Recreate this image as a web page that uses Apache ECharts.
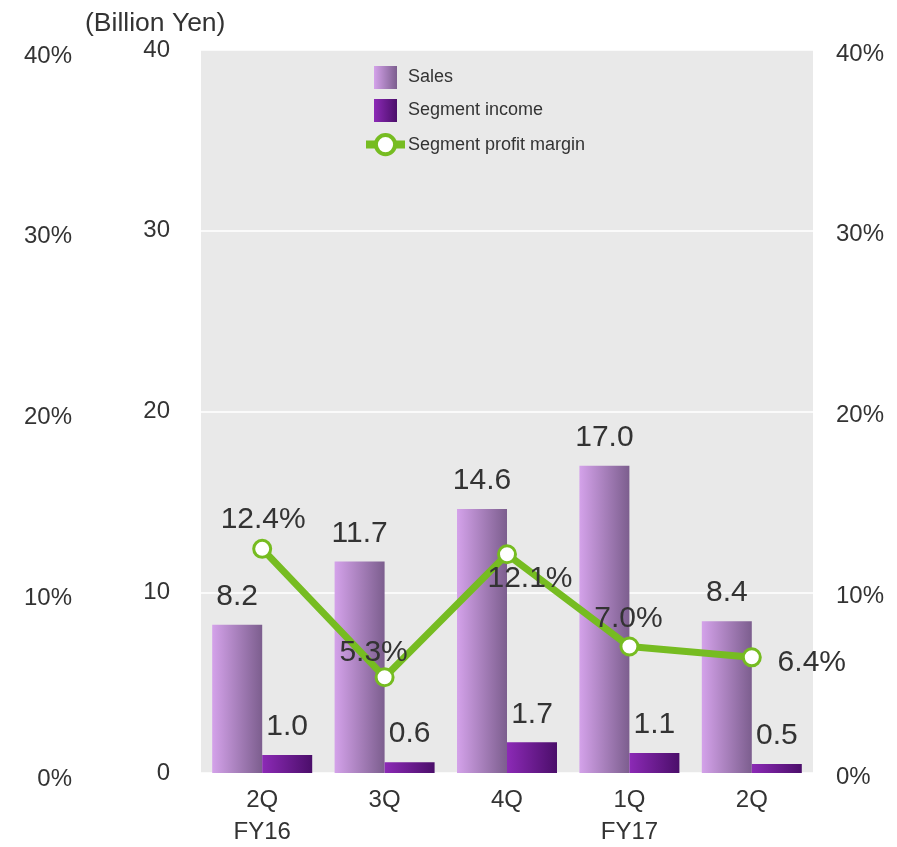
<!DOCTYPE html>
<html><head><meta charset="utf-8">
<script src="https://cdn.jsdelivr.net/npm/echarts@6/dist/echarts.min.js"></script>
<style>html,body{margin:0;padding:0;background:#fff;}#c{width:897px;height:847px;}</style>
</head><body><div id="c"></div>
<script>
const categories = ['2Q\nFY16', '3Q', '4Q', '1Q\nFY17', '2Q'];
const sales = [8.2, 11.7, 14.6, 17.0, 8.4];
const segmentIncome = [1.0, 0.6, 1.7, 1.1, 0.5];
const profitMargin = [12.4, 5.3, 12.1, 7.0, 6.4];
const marginLabelOffsets = [[1, -29], [-11, -24], [23, 24], [-1, -28], [60, 5]];
const leftTicks = [0, 10, 20, 30, 40];

const FONT = '"Liberation Sans", Arial, sans-serif';
const TXT = '#333333';

const chart = echarts.init(document.getElementById('c'));
chart.setOption({
  animation: false,
  backgroundColor: '#ffffff',
  textStyle: { fontFamily: FONT },
  grid: { left: 201, right: 84, top: 50, bottom: 74, show: true, backgroundColor: '#e9e9e9', borderWidth: 0,
    containLabel: false, outerBoundsMode: 'none' },
  graphic: [{ type: 'text', left: 85, top: 10, style: { text: '(Billion Yen)', font: '26.5px ' + FONT, fill: TXT } }],
  legend: [{
    orient: 'vertical', left: 369, top: 61, itemWidth: 23, itemHeight: 23, itemGap: 10,
    textStyle: { fontSize: 18, color: TXT, fontFamily: FONT, padding: [0, 0, 0, 6] },
    data: [{ name: 'Sales', icon: 'rect' }, { name: 'Segment income', icon: 'rect' }]
  }, {
    orient: 'vertical', left: 357, top: 128, itemWidth: 39, itemHeight: 24, itemGap: 10,
    lineStyle: { width: 8 },
    itemStyle: { borderWidth: 4 },
    textStyle: { fontSize: 18, color: TXT, fontFamily: FONT, padding: [0, 0, 0, -2] },
    data: ['Segment profit margin']
  }],
  xAxis: {
    type: 'category', data: categories,
    axisLine: { show: false }, axisTick: { show: false },
    axisLabel: { fontSize: 24, color: TXT, lineHeight: 32, margin: 11, fontFamily: FONT }
  },
  yAxis: [{
    type: 'value', min: 0, max: 40, interval: 10, position: 'left',
    axisLine: { show: false }, axisTick: { show: false },
    splitLine: { lineStyle: { color: '#ffffff', width: 1.5 } },
    axisLabel: { fontSize: 24, color: TXT, margin: 31, fontFamily: FONT,
      formatter: v => leftTicks.includes(v) ? String(v) : '' }
  }, {
    type: 'value', min: 0, max: 40, interval: 10, position: 'right',
    axisLine: { show: false }, axisTick: { show: false }, splitLine: { show: false },
    axisLabel: { color: TXT, margin: 23, formatter: v => '{p|' + v + '%}',
      rich: { p: { fontSize: 24, color: TXT, fontFamily: FONT, padding: [8, 0, 0, 0] } } }
  }, {
    type: 'value', min: 0, max: 40, interval: 10, position: 'left', offset: 100,
    axisLine: { show: false }, axisTick: { show: false }, splitLine: { show: false },
    axisLabel: { color: TXT, margin: 29, formatter: v => '{p|' + v + '%}',
      rich: { p: { fontSize: 24, color: TXT, fontFamily: FONT, padding: [12, 0, 0, 0] } } }
  }],
  series: [{
    name: 'Sales', type: 'bar', data: sales, barWidth: 50, barGap: '0%',
    itemStyle: { color: new echarts.graphic.LinearGradient(0, 0, 1, 0, [
      { offset: 0, color: '#d4a2ea' }, { offset: 1, color: '#7c5e8e' }]) },
    label: { show: true, position: 'top', distance: 13, fontSize: 30, color: TXT, fontFamily: FONT, formatter: p => p.value.toFixed(1) }
  }, {
    name: 'Segment income', type: 'bar', data: segmentIncome, barWidth: 50,
    itemStyle: { color: new echarts.graphic.LinearGradient(0, 0, 1, 0, [
      { offset: 0, color: '#8c2ab6' }, { offset: 1, color: '#4b0e6a' }]) },
    label: { show: true, position: 'top', distance: 13, fontSize: 30, color: TXT, fontFamily: FONT, formatter: p => p.value.toFixed(1) }
  }, {
    name: 'Segment profit margin', type: 'line', yAxisIndex: 1, z: 5,
    data: profitMargin.map((v, i) => ({ value: v, label: { offset: marginLabelOffsets[i] } })),
    lineStyle: { color: '#76bc21', width: 7 },
    itemStyle: { color: '#ffffff', borderColor: '#76bc21', borderWidth: 3 },
    symbol: 'circle', symbolSize: 17,
    label: { show: true, position: 'inside', fontSize: 30, color: TXT, fontFamily: FONT, formatter: p => p.value.toFixed(1) + '%' }
  }]
});
</script>
</body></html>
